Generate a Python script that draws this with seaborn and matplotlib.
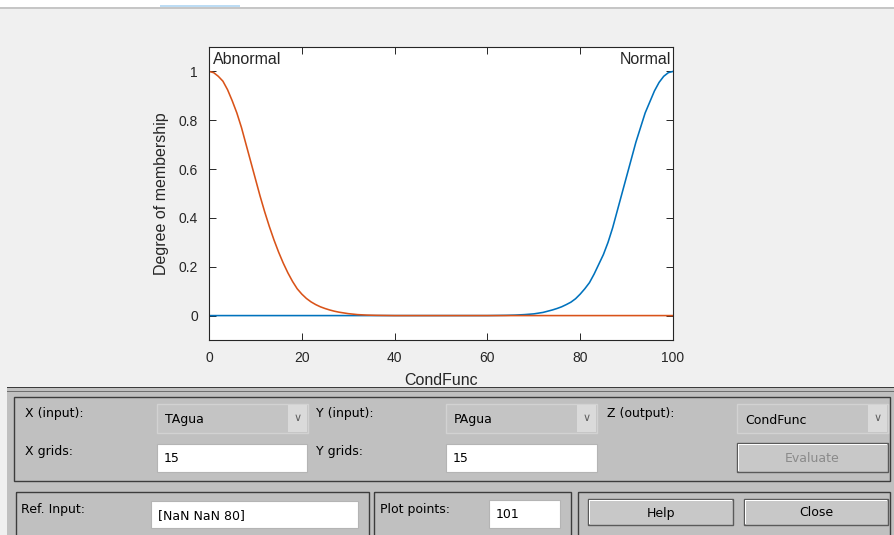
"""Membership function plot (fuzzy output CondFunc) with the GUI panel below it."""

import matplotlib

matplotlib.use("Agg")
import matplotlib.pyplot as plt
import pandas as pd
import seaborn as sns
from matplotlib.patches import Rectangle

# membership values
abnormal_x = [0, 1, 2, 3, 4, 5, 6, 7, 8, 9, 10, 11, 12, 13, 14, 15, 16, 17, 18, 19, 20,
              21, 22, 23, 24, 25, 26, 27, 28, 29, 30, 32, 34, 36, 40, 100]
abnormal_mu = [1.00, 0.995, 0.98, 0.96, 0.925, 0.88, 0.83, 0.77, 0.70, 0.63, 0.56,
               0.49, 0.425, 0.365, 0.31, 0.26, 0.215, 0.175, 0.14, 0.11, 0.088,
               0.07, 0.056, 0.045, 0.036, 0.029, 0.023, 0.018, 0.014, 0.011, 0.008,
               0.004, 0.002, 0.001, 0.0, 0.0]

normal_x = [0, 60, 64, 66, 68, 70, 71, 72, 73, 74, 75, 76, 77, 78, 79, 80, 81, 82, 83, 84,
            85, 86, 87, 88, 89, 90, 91, 92, 93, 94, 95, 96, 97, 98, 99, 100]
normal_mu = [0.0, 0.0, 0.001, 0.002, 0.004, 0.007, 0.01, 0.013, 0.018, 0.023, 0.029,
             0.036, 0.045, 0.055, 0.069, 0.088, 0.11, 0.135, 0.17, 0.21,
             0.25, 0.30, 0.36, 0.43, 0.50, 0.57, 0.64, 0.71, 0.77, 0.83,
             0.875, 0.92, 0.955, 0.98, 0.995, 1.00]

mf_names = ["Normal", "Abnormal"]
mf_colors = {"Normal": "#0072BD", "Abnormal": "#D95319"}
x_ticks = [0, 20, 40, 60, 80, 100]
y_ticks = [0, 0.2, 0.4, 0.6, 0.8, 1]
x_label = "CondFunc"
y_label = "Degree of membership"

W, H = 894, 535
GUI_BG = "#f0f0f0"
PANEL = "#c0c0c0"
DARK = "#3c3c3c"

sns.set_style("ticks")
plt.rcParams["font.family"] = ["Liberation Sans", "DejaVu Sans"]

df = pd.concat(
    [
        pd.DataFrame({"x": normal_x, "mu": normal_mu, "mf": "Normal"}),
        pd.DataFrame({"x": abnormal_x, "mu": abnormal_mu, "mf": "Abnormal"}),
    ],
    ignore_index=True,
)

fig = plt.figure(figsize=(W / 100, H / 100), dpi=100)
fig.patch.set_facecolor(GUI_BG)


def px_axes(zorder):
    """Full-figure axes in pixel coords (origin top-left)."""
    a = fig.add_axes([0, 0, 1, 1], zorder=zorder)
    a.set_xlim(0, W)
    a.set_ylim(H, 0)
    a.axis("off")
    a.patch.set_alpha(0)
    return a


def rect(a, x0, y0, x1, y1, fc, ec="none", lw=0.0):
    a.add_patch(Rectangle((x0, y0), x1 - x0, y1 - y0, facecolor=fc, edgecolor=ec, linewidth=lw))


# background strip on top
bg = px_axes(-5)
rect(bg, 0, 0, W, 7, "white")
rect(bg, 0, 7, W, 9, "#c6c6c6")
rect(bg, 160, 5, 240, 7, "#bcdcf4")

# the plot
ax = fig.add_axes([209 / W, (H - 340) / H, 464 / W, 293 / H])
ax.set_facecolor("white")
sns.lineplot(
    data=df, x="x", y="mu", hue="mf", hue_order=mf_names, palette=mf_colors,
    estimator=None, legend=False, linewidth=1.15, ax=ax,
)
ax.set_xlim(0, 100)
ax.set_ylim(-0.1, 1.1)
ax.set_xticks(x_ticks)
ax.set_xticklabels([str(t) for t in x_ticks])
ax.set_yticks(y_ticks)
ax.set_yticklabels(["0", "0.2", "0.4", "0.6", "0.8", "1"])
ax.tick_params(direction="in", top=True, right=True, length=5, width=0.7,
               colors="#262626", labelsize=10, pad=8)
for sp in ax.spines.values():
    sp.set_color("#262626")
    sp.set_linewidth(0.8)
ax.set_xlabel(x_label, fontsize=11.5, color="#262626", labelpad=6)
ax.set_ylabel(y_label, fontsize=11.5, color="#262626", labelpad=7)
ax.text(0.8, 1.02, "Abnormal", ha="left", va="bottom", fontsize=11.5)
ax.text(99.5, 1.02, "Normal", ha="right", va="bottom", fontsize=11.5)

# GUI panel on top of everything
ui = px_axes(10)
rect(ui, 7, 387, W, H, PANEL)
rect(ui, 7, 386.5, W, 388, DARK)
rect(ui, 7, 391, W, 392, "#6e6e6e")

for x0, y0, x1, y1 in [(14, 397, 890, 481), (16, 492, 369, 540),
                       (374, 492, 571, 540), (578, 492, 890, 540)]:
    rect(ui, x0, y0, x1, y1, "none", ec=DARK, lw=1.0)

ui_font = dict(fontsize=9, color="black", va="center", ha="left", family=["DejaVu Sans"])

# dropdowns
for x0, label in [(157, "TAgua"), (446, "PAgua"), (737, "CondFunc")]:
    rect(ui, x0, 404, x0 + 151, 433, "#c4c4c4", ec="#d2d2d2", lw=1.0)
    rect(ui, x0 + 131, 405, x0 + 150, 432, "#dadada")
    ui.text(x0 + 141, 418, "\u2228", fontsize=8, color="#606060", ha="center", va="center",
            family=["DejaVu Sans"])
    ui.text(x0 + 8, 420, label, **ui_font)

# text boxes
for x0, x1, y0, y1, val in [(157, 307, 444, 472, "15"), (446, 597, 444, 472, "15"),
                            (151, 358, 501, 528, "[NaN NaN 80]"), (489, 560, 500, 528, "101")]:
    rect(ui, x0, y0, x1, y1, "white", ec="#b4b4b4", lw=0.8)
    ui.text(x0 + 7, (y0 + y1) / 2 + 1, val, **ui_font)

# buttons
for x0, x1, y0, y1, label, col in [(737, 888, 443, 472, "Evaluate", "#8a8a8a"),
                                   (588, 733, 499, 525, "Help", "black"),
                                   (744, 888, 499, 525, "Close", "black")]:
    rect(ui, x0, y0, x1, y1, "#c8c8c8", ec="#5a5a5a", lw=1.0)
    rect(ui, x0 + 1, y0 + 1, x1 - 1, y0 + 2, "white")
    rect(ui, x0 + 1, y0 + 1, x0 + 2, y1 - 1, "white")
    ui.text((x0 + x1) / 2, (y0 + y1) / 2 + 1, label, fontsize=9, color=col,
            ha="center", va="center", family=["DejaVu Sans"])

# static labels
for x, y, s in [(25, 413, "X (input):"), (25, 451, "X grids:"), (316, 413, "Y (input):"),
                (316, 452, "Y grids:"), (607, 413, "Z (output):"),
                (21, 509, "Ref. Input:"), (380, 509, "Plot points:")]:
    ui.text(x, y, s, **ui_font)

fig.savefig("out.png", dpi=100, facecolor=fig.get_facecolor())
plt.close(fig)
